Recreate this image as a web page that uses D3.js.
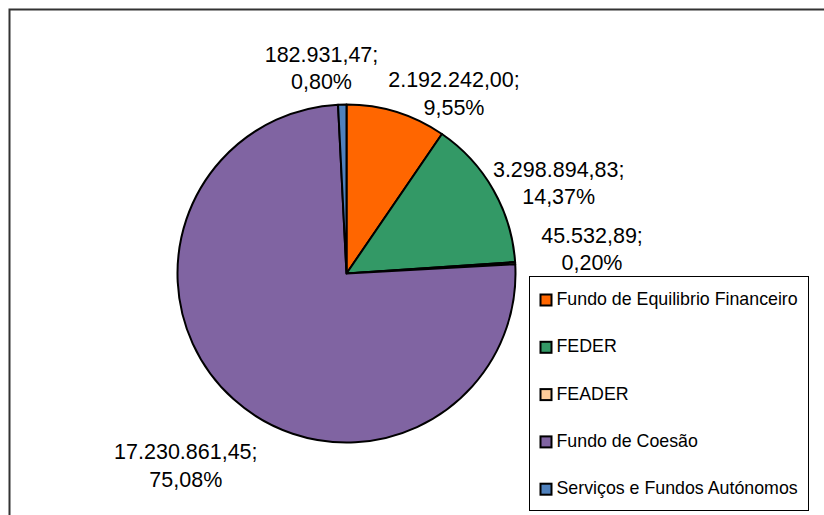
<!DOCTYPE html>
<html>
<head>
<meta charset="utf-8">
<script src="https://cdn.jsdelivr.net/npm/d3@7"></script>
<style>
  html, body { margin: 0; padding: 0; background: #fff; }
  svg { display: block; }
  text { font-family: "Liberation Sans", Arial, sans-serif; fill: #000; }
</style>
</head>
<body>
<svg id="chart" width="824" height="515"></svg>
<script>
// ---- data ----
const categories = [
  "Fundo de Equilibrio Financeiro",
  "FEDER",
  "FEADER",
  "Fundo de Coesão",
  "Serviços e Fundos Autónomos"
];
const values = [2192242.00, 3298894.83, 45532.89, 17230861.45, 182931.47];
const valueLabels = ["2.192.242,00;", "3.298.894,83;", "45.532,89;", "17.230.861,45;", "182.931,47;"];
const percentLabels = ["9,55%", "14,37%", "0,20%", "75,08%", "0,80%"];
const colors = ["#FF6600", "#339966", "#FFCC99", "#8064A2", "#4F81BD"];

// ---- layout ----
const W = 824, H = 515;
const cx = 346.5, cy = 273.5, R = 169;
// label anchor (center x, first baseline) relative to pie centre, per category
const labelOffsets = [
  [107.5, -186.2],
  [212.2, -96.8],
  [245.5, -30.8],
  [-160.7, 185.8],
  [-25, -211.8]
];
const lineGap = 27.2;

const svg = d3.select("#chart");

// outer chart frame
svg.append("rect")
  .attr("x", 9.5).attr("y", 9.5)
  .attr("width", W + 20).attr("height", H + 20)
  .attr("fill", "#fff")
  .attr("stroke", "#333").attr("stroke-width", 2);

const data = categories.map((c, i) => ({
  cat: c, value: values[i], color: colors[i],
  vlabel: valueLabels[i], plabel: percentLabels[i], off: labelOffsets[i]
}));

const pie = d3.pie().sort(null).value(d => d.value);
const arc = d3.arc().innerRadius(0).outerRadius(R);

const g = svg.append("g").attr("transform", `translate(${cx},${cy})`);
g.selectAll("path.slice")
  .data(pie(data))
  .join("path")
  .attr("class", "slice")
  .attr("d", arc)
  .attr("fill", d => d.data.color)
  .attr("stroke", "#000")
  .attr("stroke-width", 2)
  .attr("stroke-linejoin", "round");

// data labels
const lbl = g.selectAll("text.lbl")
  .data(data)
  .join("text")
  .attr("class", "lbl")
  .attr("text-anchor", "middle")
  .attr("font-size", "21.5px");
lbl.append("tspan")
  .attr("x", d => d.off[0]).attr("y", d => d.off[1])
  .text(d => d.vlabel);
lbl.append("tspan")
  .attr("x", d => d.off[0]).attr("y", d => d.off[1] + lineGap)
  .text(d => d.plabel);

// legend
const legX = 529.5, legY = 276.5, legW = 279, legH = 234;
const leg = svg.append("g");
leg.append("rect")
  .attr("x", legX).attr("y", legY)
  .attr("width", legW).attr("height", legH)
  .attr("fill", "#fff").attr("stroke", "#000").attr("stroke-width", 1);

const yLeg = d3.scalePoint().domain(categories).range([305, 494.2]);
const items = leg.selectAll("g.item").data(data).join("g").attr("class", "item");
items.append("rect")
  .attr("x", 540.5)
  .attr("y", d => yLeg(d.cat) - 10.5)
  .attr("width", 11).attr("height", 11)
  .attr("fill", d => d.color)
  .attr("stroke", "#000").attr("stroke-width", 2);
items.append("text")
  .attr("x", 556.5)
  .attr("y", d => yLeg(d.cat))
  .attr("font-size", "17.8px")
  .text(d => d.cat);
</script>
</body>
</html>
